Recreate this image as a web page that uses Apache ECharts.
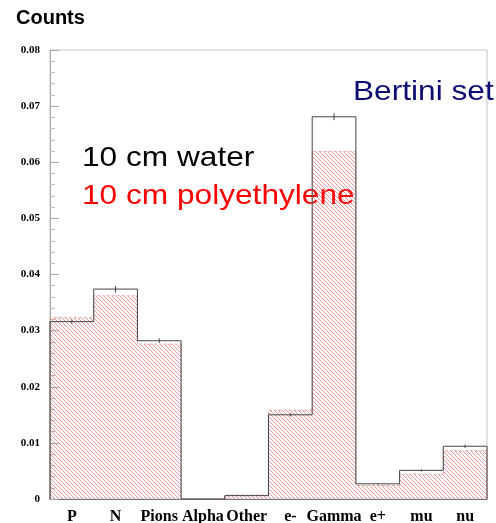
<!DOCTYPE html>
<html><head><meta charset="utf-8">
<script src="https://cdn.jsdelivr.net/npm/echarts@6/dist/echarts.min.js"></script>
<style>html,body{margin:0;padding:0;background:#fff}#c{width:496px;height:523px}</style>
</head><body><div id="c"></div>
<script>
const categories = ['P', 'N', 'Pions', 'Alpha', 'Other', 'e-', 'Gamma', 'e+', 'mu', 'nu'];
const water = [0.0316, 0.0374, 0.0282, 0, 0.0006, 0.0150, 0.0681, 0.0027, 0.0051, 0.0094];
const waterErr = [0.0004, 0.0006, 0.0004, 0, 0.0001, 0.0003, 0.0006, 0.0001, 0.0002, 0.0003];
const poly = [0.0323, 0.0362, 0.0276, 0, 0.0007, 0.0158, 0.0619, 0.0024, 0.0044, 0.0086];
const yMin = 0, yMax = 0.08, yStep = 0.01;

// hatch pattern
const tile = document.createElement('canvas');
tile.width = 4; tile.height = 4;
const tc = tile.getContext('2d');
tc.strokeStyle = 'rgba(220,70,70,0.55)';
tc.lineWidth = 1;
for (const k of [-4, 0, 4]) { tc.beginPath(); tc.moveTo(k, 0); tc.lineTo(k + 4, 4); tc.stroke(); }

function stepRender(color, dash, withErr) {
  return function (params, api) {
    const i = api.value(0), v = api.value(1), prev = api.value(2), e = api.value(3);
    const c = api.coord([i, v]);
    const w = api.size([1, 0])[0];
    const x0 = c[0] - w / 2, x1 = c[0] + w / 2;
    const pp = api.coord([i, prev]);
    const pts = [[x0, pp[1]], [x0, c[1]], [x1, c[1]]];
    if (i === categories.length - 1) pts.push([x1, api.coord([i, 0])[1]]);
    const children = [{ type: 'polyline', shape: { points: pts }, style: { stroke: color, lineWidth: 1, fill: null, lineDash: dash } }];
    if (withErr && e > 0) {
      const a = api.coord([i, v + e]), b = api.coord([i, v - e]);
      children.push({ type: 'line', shape: { x1: c[0], y1: a[1], x2: c[0], y2: b[1] }, style: { stroke: color, lineWidth: 1 } });
    }
    return { type: 'group', children };
  };
}

const chart = echarts.init(document.getElementById('c'), null, { renderer: 'canvas' });
chart.setOption({
  animation: false,
  backgroundColor: '#fff',
  grid: { left: 50, right: 9, top: 50, bottom: 24, outerBoundsMode: 'none', containLabel: false, show: true, borderColor: '#c4c4c4', borderWidth: 1, backgroundColor: 'transparent' },
  xAxis: {
    type: 'category', data: categories, boundaryGap: true,
    axisLine: { lineStyle: { color: '#777', width: 1 } },
    axisTick: { show: false },
    axisLabel: { color: '#000', fontFamily: 'Liberation Serif', fontWeight: 'bold', fontSize: 16, margin: 10, interval: 0 }
  },
  yAxis: {
    type: 'value', min: yMin, max: yMax, interval: yStep,
    splitLine: { show: false },
    axisLine: { show: true, lineStyle: { color: '#aaa' } },
    axisTick: { show: true, inside: true, length: 9, lineStyle: { color: '#aaa' } },
    minorTick: { show: true, splitNumber: 5, length: 5, lineStyle: { color: '#bbb' } },
    axisLabel: { color: '#000', fontFamily: 'Liberation Serif', fontWeight: 'bold', fontSize: 11, margin: 10 }
  },
  series: [
    { type: 'bar', data: poly, barWidth: '100%', barGap: '-100%', z: 1,
      itemStyle: { color: { image: tile, repeat: 'repeat' } }, silent: true },
    { type: 'custom', z: 3, renderItem: stepRender('#eba3a3', [3, 2], false),
      data: poly.map((v, i) => [i, v, i ? poly[i - 1] : 0, 0]) },
    { type: 'custom', z: 4, renderItem: stepRender('#444', null, true),
      data: water.map((v, i) => [i, v, i ? water[i - 1] : 0, waterErr[i]]) }
  ],
  graphic: [
    { type: 'text', left: 16, top: 8, style: { text: 'Counts', font: 'bold 20px "Liberation Sans", Arial', fill: '#000' } },
    { type: 'text', x: 353, y: 92, scaleX: 1.13, style: { text: 'Bertini set', font: '28px "Liberation Sans", Arial', fill: '#0c0c72', verticalAlign: 'middle' } },
    { type: 'text', x: 82, y: 158, scaleX: 1.13, style: { text: '10 cm water', font: '28px "Liberation Sans", Arial', fill: '#000', verticalAlign: 'middle' } },
    { type: 'text', x: 82, y: 196, scaleX: 1.13, style: { text: '10 cm polyethylene', font: '28px "Liberation Sans", Arial', fill: '#ff0000', verticalAlign: 'middle' } }
  ]
});
</script></body></html>
